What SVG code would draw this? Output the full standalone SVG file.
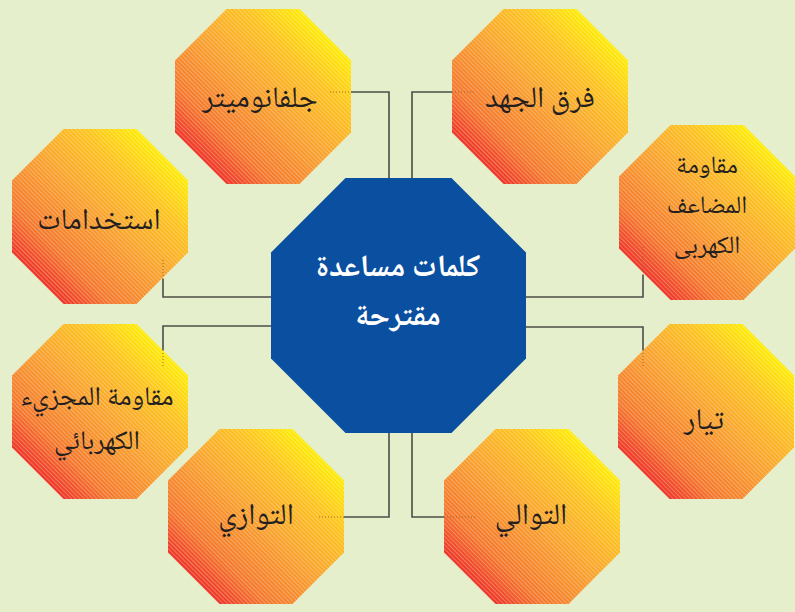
<svg xmlns="http://www.w3.org/2000/svg" xmlns:xlink="http://www.w3.org/1999/xlink" width="795" height="612" viewBox="0 0 795 612">
  <style>
    .lbl { font-family: "Noto Naskh Arabic", "Noto Sans Arabic", "DejaVu Sans", sans-serif; font-size: 30px; fill: #231f20; text-anchor: middle; }
    .lbl2 { font-family: "Noto Naskh Arabic", "Noto Sans Arabic", "DejaVu Sans", sans-serif; font-size: 27px; fill: #231f20; text-anchor: middle; }
    .lbl3 { font-family: "Noto Naskh Arabic", "Noto Sans Arabic", "DejaVu Sans", sans-serif; font-size: 25px; fill: #231f20; text-anchor: middle; }
    .ctr { font-family: "Noto Naskh Arabic", "Noto Sans Arabic", "DejaVu Sans", sans-serif; font-size: 31px; font-weight: bold; fill: #ffffff; text-anchor: middle; }
    .wire { fill: none; stroke: #4d4d48; stroke-width: 1.6; }
    .dot { fill: none; stroke: #9a6a2a; stroke-width: 1; stroke-dasharray: 1 2; }
  </style>
  <defs>
    <linearGradient id="warm" x1="1" y1="0" x2="0" y2="1">
      <stop offset="0.12" stop-color="#fff200"/>
      <stop offset="0.3" stop-color="#fdc21c"/>
      <stop offset="0.5" stop-color="#f9a12c"/>
      <stop offset="0.72" stop-color="#f4782c"/>
      <stop offset="0.9" stop-color="#ec1c24"/>
    </linearGradient>
    <pattern id="hatch" width="3" height="3" patternUnits="userSpaceOnUse" patternTransform="rotate(45)">
      <line x1="0" y1="0.5" x2="3" y2="0.5" stroke="#ffffff" stroke-opacity="0.28" stroke-width="1"/>
    </pattern>
    <polygon id="oct" points="51.5,0 124.5,0 176,51.5 176,123.5 124.5,175 51.5,175 0,123.5 0,51.5"/>
  </defs>

  <rect width="795" height="612" fill="#e6efcc"/>

  <!-- central hub -->
  <g id="hub">
    <polygon points="345.5,178 451.5,178 526,252.5 526,358.5 451.5,433 345.5,433 271,358.5 271,252.5" fill="#0a4fa0"/>
    <text class="ctr" x="398" y="276" direction="rtl">كلمات مساعدة</text>
    <text class="ctr" x="398" y="325" direction="rtl">مقترحة</text>
  </g>

  <g id="galvanometer">
    <use xlink:href="#oct" x="175" y="9" fill="url(#warm)"/>
    <use xlink:href="#oct" x="175" y="9" fill="url(#hatch)"/>
    <text class="lbl" x="260" y="107" direction="rtl">جلفانوميتر</text>
  </g>

  <g id="potential-difference">
    <use xlink:href="#oct" x="452" y="9" fill="url(#warm)"/>
    <use xlink:href="#oct" x="452" y="9" fill="url(#hatch)"/>
    <text class="lbl" x="540" y="107" direction="rtl">فرق الجهد</text>
  </g>

  <g id="uses">
    <use xlink:href="#oct" x="12" y="129" fill="url(#warm)"/>
    <use xlink:href="#oct" x="12" y="129" fill="url(#hatch)"/>
    <text class="lbl" x="99" y="229" direction="rtl">استخدامات</text>
  </g>

  <g id="multiplier-resistance">
    <use xlink:href="#oct" x="619" y="125" fill="url(#warm)"/>
    <use xlink:href="#oct" x="619" y="125" fill="url(#hatch)"/>
    <text class="lbl3" x="707" y="173" direction="rtl">مقاومة</text>
    <text class="lbl3" x="707" y="213" direction="rtl">المضاعف</text>
    <text class="lbl3" x="707" y="253" direction="rtl">الكهربى</text>
  </g>

  <g id="shunt-resistance">
    <use xlink:href="#oct" x="12" y="324" fill="url(#warm)"/>
    <use xlink:href="#oct" x="12" y="324" fill="url(#hatch)"/>
    <text class="lbl2" x="97" y="405" direction="rtl">مقاومة المجزيء</text>
    <text class="lbl2" x="97" y="449" direction="rtl">الكهربائي</text>
  </g>

  <g id="current">
    <use xlink:href="#oct" x="618" y="324" fill="url(#warm)"/>
    <use xlink:href="#oct" x="618" y="324" fill="url(#hatch)"/>
    <text class="lbl" x="704" y="429" direction="rtl">تيار</text>
  </g>

  <g id="parallel">
    <use xlink:href="#oct" x="168" y="429" fill="url(#warm)"/>
    <use xlink:href="#oct" x="168" y="429" fill="url(#hatch)"/>
    <text class="lbl" x="256" y="524" direction="rtl">التوازي</text>
  </g>

  <g id="series">
    <use xlink:href="#oct" x="444" y="429" fill="url(#warm)"/>
    <use xlink:href="#oct" x="444" y="429" fill="url(#hatch)"/>
    <text class="lbl" x="531" y="524" direction="rtl">التوالي</text>
  </g>

  <!-- connectors: elbow wires from the hub, each fading into a dotted tail inside its node -->
  <g id="connectors">
    <path class="wire" d="M351,92 H389 V178"/>
    <path class="dot" d="M330,92 H351"/>
    <path class="wire" d="M452,92 H412 V178"/>
    <path class="dot" d="M452,92 H475"/>
    <path class="wire" d="M271,297 H163 V279"/>
    <path class="dot" d="M163,279 V260"/>
    <path class="wire" d="M271,326 H163 V350"/>
    <path class="dot" d="M163,350 V366"/>
    <path class="wire" d="M526,297 H643 V275"/>
    <path class="dot" d="M643,275 V247"/>
    <path class="wire" d="M526,327 H643 V350"/>
    <path class="dot" d="M643,350 V368"/>
    <path class="wire" d="M389,433 V517 H344"/>
    <path class="dot" d="M344,517 H317"/>
    <path class="wire" d="M412,433 V517 H444"/>
    <path class="dot" d="M444,517 H476"/>
  </g>
</svg>
